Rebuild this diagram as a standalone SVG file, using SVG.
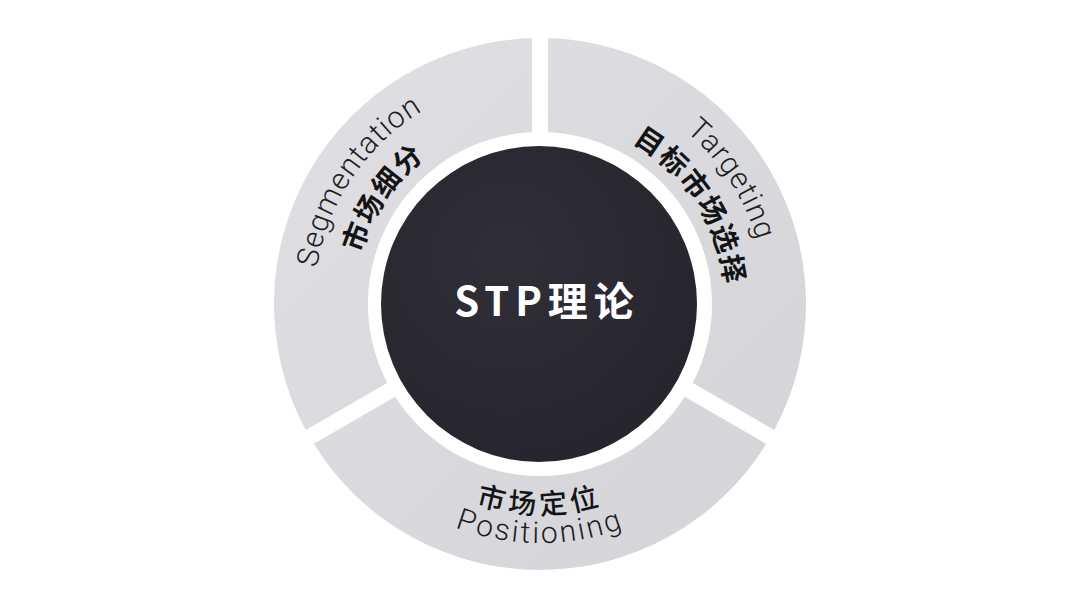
<svg xmlns="http://www.w3.org/2000/svg" width="1080" height="604" viewBox="0 0 1080 604">
  <defs>
    <linearGradient id="gGray" gradientUnits="userSpaceOnUse" x1="274" y1="38" x2="806" y2="570">
      <stop offset="0" stop-color="#e0e0e4"/>
      <stop offset="1" stop-color="#d4d4d8"/>
    </linearGradient>
    <radialGradient id="gDark" cx="0.4" cy="0.35" r="0.75">
      <stop offset="0" stop-color="#302f38"/>
      <stop offset="1" stop-color="#25242c"/>
    </radialGradient>
    <path id="pSegEn" d="M336.9,403.1 A226,226 0 0 1 555.8,78.5"/>
    <path id="pSegCn" d="M372.8,385.5 A186,186 0 0 1 553.0,118.5"/>
    <path id="pTarEn" d="M528.2,78.3 A226,226 0 0 1 741.4,406.6"/>
    <path id="pTarCn" d="M530.3,118.3 A186,186 0 0 1 705.7,388.4"/>
    <path id="pPosCn" d="M358.1,409 A210,210 0 0 0 721.9,409"/>
    <path id="pPosEn" d="M333.0,423.5 A239,239 0 0 0 747.0,423.5"/>
  </defs>
  <style>
    .seg { fill: url(#gGray); }
    .en { font-family: Roboto, "Liberation Sans", sans-serif; font-weight: 300; font-size: 30px; fill: #1e1e22; letter-spacing: 1px; }
    .enb { letter-spacing: 2.5px; }
    .cn { font-family: "Noto Sans CJK SC", "Noto Sans", sans-serif; font-weight: 700; font-size: 28px; fill: #141416; letter-spacing: 1.5px; }
    .cnb { font-family: "Noto Sans CJK SC", "Noto Sans", sans-serif; font-weight: 500; font-size: 28px; fill: #141416; letter-spacing: 4.5px; }
    .title { font-family: "Noto Sans CJK SC", "Noto Sans", sans-serif; font-weight: 700; font-size: 40px; fill: #ffffff; letter-spacing: 6px; }
  </style>
  <rect width="1080" height="604" fill="#ffffff"/>
  <g id="connectors"></g>
  <g id="segmentation">
    <path class="seg" d="M305.75,430.01 A266,266 0 0 1 532,38.12 L532,132.19 A172,172 0 0 0 387.21,382.97 Z"/>
    <text class="en" text-anchor="middle"><textPath href="#pSegEn" startOffset="50%">Segmentation</textPath></text>
    <text class="cn" text-anchor="middle"><textPath href="#pSegCn" startOffset="50%">市场细分</textPath></text>
  </g>
  <g id="targeting">
    <path class="seg" d="M548,38.12 A266,266 0 0 1 774.25,430.01 L692.79,382.97 A172,172 0 0 0 548,132.19 Z"/>
    <text class="en" text-anchor="middle"><textPath href="#pTarEn" startOffset="50%">Targeting</textPath></text>
    <text class="cn" text-anchor="middle"><textPath href="#pTarCn" startOffset="50%">目标市场选择</textPath></text>
  </g>
  <g id="positioning">
    <path class="seg" d="M766.25,443.87 A266,266 0 0 1 313.75,443.87 L395.21,396.83 A172,172 0 0 0 684.79,396.83 Z"/>
    <text class="cnb" text-anchor="middle"><textPath href="#pPosCn" startOffset="50%">市场定位</textPath></text>
    <text class="en enb" text-anchor="middle"><textPath href="#pPosEn" startOffset="50%">Positioning</textPath></text>
  </g>
  <g id="stp">
    <circle cx="539" cy="304" r="158" fill="url(#gDark)"/>
    <text class="title" x="547" y="316" text-anchor="middle">STP理论</text>
  </g>
</svg>
